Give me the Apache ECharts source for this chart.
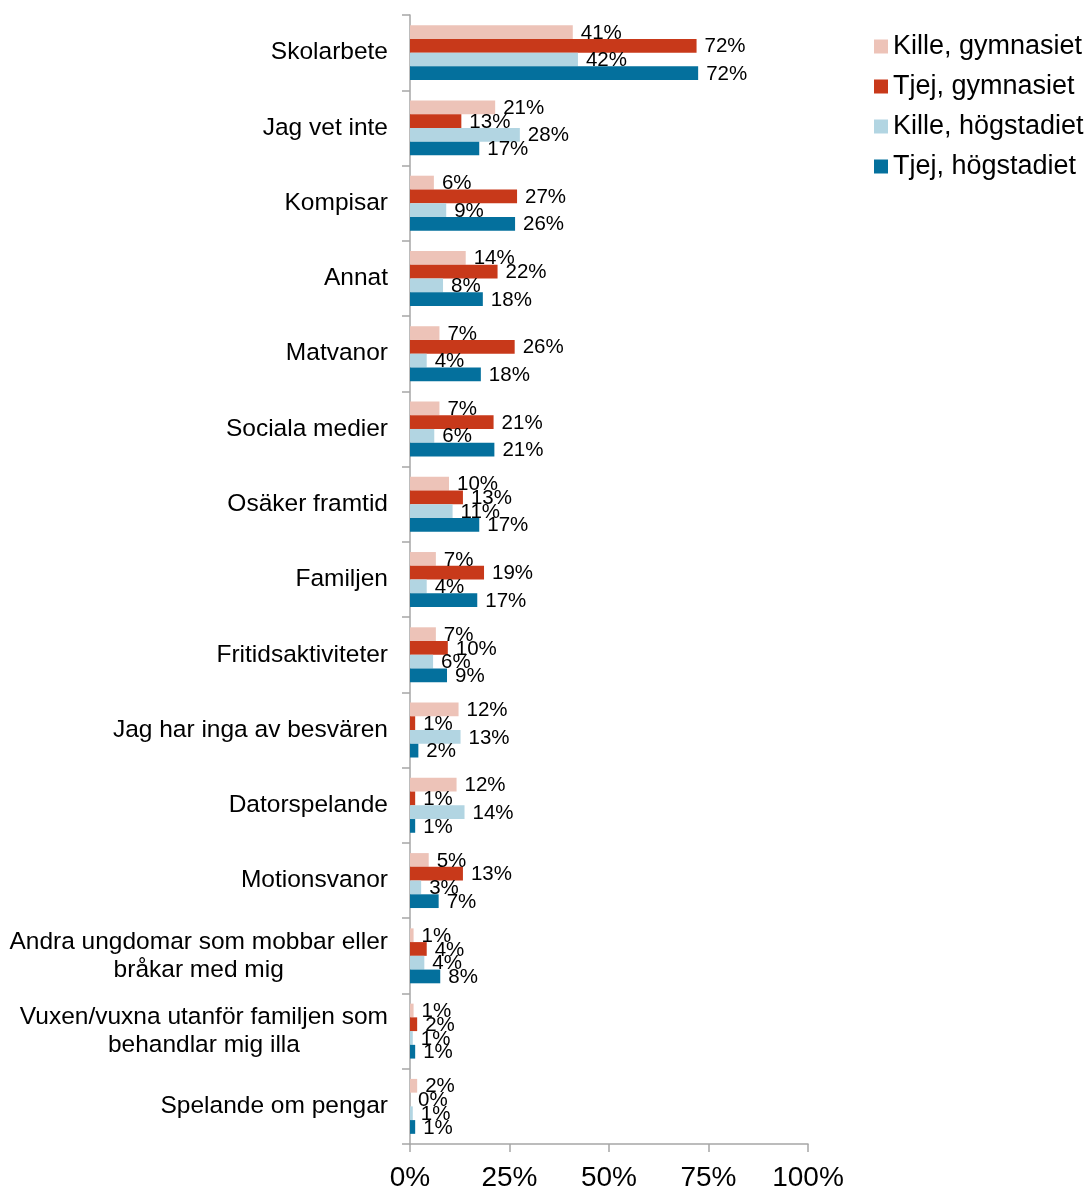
<!DOCTYPE html>
<html>
<head>
<meta charset="utf-8">
<script src="https://cdn.jsdelivr.net/npm/echarts@6/dist/echarts.min.js"></script>
<style>
html,body{margin:0;padding:0;background:#fff;}
#chart{width:1090px;height:1189px;}
</style>
</head>
<body>
<div id="chart"></div>
<script>
const categories = [
  'Skolarbete',
  'Jag vet inte',
  'Kompisar',
  'Annat',
  'Matvanor',
  'Sociala medier',
  'Osäker framtid',
  'Familjen',
  'Fritidsaktiviteter',
  'Jag har inga av besvären',
  'Datorspelande',
  'Motionsvanor',
  'Andra ungdomar som mobbar eller\nbråkar med mig',
  'Vuxen/vuxna utanför familjen som\nbehandlar mig illa',
  'Spelande om pengar'
];
const seriesNames = ['Kille, gymnasiet', 'Tjej, gymnasiet', 'Kille, högstadiet', 'Tjej, högstadiet'];
const killeGymnasiet = [40.9, 21.4, 6.0, 14.0, 7.4, 7.4, 9.8, 6.5, 6.5, 12.2, 11.7, 4.7, 0.9, 0.9, 1.8];
const tjejGymnasiet  = [72.0, 12.9, 26.9, 22.0, 26.3, 21.0, 13.3, 18.6, 9.5, 1.3, 1.3, 13.3, 4.2, 1.8, 0.0];
const killeHogstadiet = [42.2, 27.6, 9.1, 8.3, 4.2, 6.1, 10.7, 4.2, 5.8, 12.7, 13.7, 2.8, 3.6, 0.7, 0.7];
const tjejHogstadiet = [72.4, 17.4, 26.4, 18.3, 17.8, 21.2, 17.4, 16.9, 9.3, 2.1, 1.3, 7.2, 7.6, 1.3, 1.3];
const xTicks = [0, 25, 50, 75, 100];

const colors = ['#EDC3B8', '#C8391A', '#B2D5E2', '#04709D'];
const font = '"Liberation Sans", Arial, sans-serif';
const allValues = [killeGymnasiet, tjejGymnasiet, killeHogstadiet, tjejHogstadiet];

const chart = echarts.init(document.getElementById('chart'), null, {renderer: 'canvas'});
const option = {
  animation: false,
  color: colors,
  textStyle: {fontFamily: font},
  grid: {left: 410, right: 282, top: 15, bottom: 45, containLabel: false, outerBoundsMode: 'none'},
  legend: {
    orient: 'vertical',
    left: 869,
    top: 28,
    itemWidth: 14,
    itemHeight: 14,
    itemGap: 13,
    icon: 'rect',
    textStyle: {fontSize: 27, lineHeight: 27, color: '#000', fontFamily: font},
    data: seriesNames
  },
  xAxis: {
    type: 'value',
    min: xTicks[0],
    max: xTicks[xTicks.length - 1],
    interval: 25,
    splitLine: {show: false},
    axisLine: {show: true, lineStyle: {color: '#A6A6A6', width: 1.5}},
    axisTick: {show: true, length: 8, lineStyle: {color: '#A6A6A6', width: 1.5}},
    axisLabel: {fontSize: 28, color: '#000', margin: 20, fontFamily: font, formatter: v => v + '%'}
  },
  yAxis: {
    type: 'category',
    inverse: true,
    data: categories,
    axisLine: {show: true, lineStyle: {color: '#A6A6A6', width: 1.5}},
    axisTick: {show: true, length: 8, alignWithLabel: false, lineStyle: {color: '#A6A6A6', width: 1.5}},
    axisLabel: {
      margin: 22,
      color: '#000',
      fontSize: 24,
      fontFamily: font,
      formatter: function (v) {
        return v.split('\n').map(l => '{c|' + l + '}').join('\n');
      },
      rich: {c: {fontSize: 24.5, lineHeight: 28, align: 'center', color: '#000', fontFamily: font}}
    }
  },
  series: seriesNames.map((name, i) => ({
    name: name,
    type: 'bar',
    data: allValues[i],
    barGap: '0%',
    barCategoryGap: '27%',
    itemStyle: {color: colors[i]},
    label: {
      show: true,
      position: 'right',
      distance: 8,
      fontSize: 20.5,
      color: '#000',
      fontFamily: font,
      offset: [0, 1],
      formatter: p => Math.round(p.value) + '%'
    },
    emphasis: {disabled: true},
    silent: true
  }))
};
chart.setOption(option);
</script>
</body>
</html>
